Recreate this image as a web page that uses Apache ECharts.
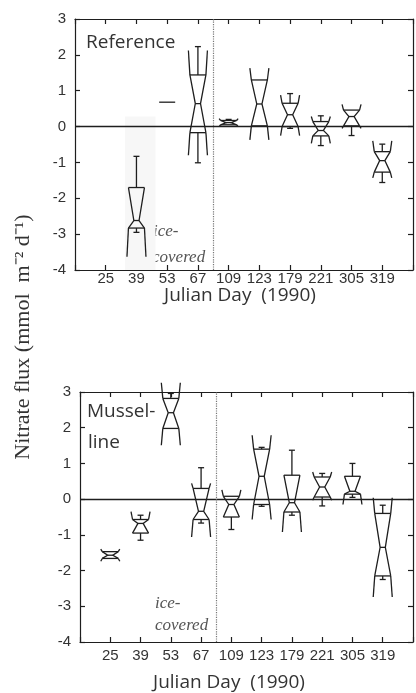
<!DOCTYPE html>
<html>
<head>
<meta charset="utf-8">
<script src="https://cdn.jsdelivr.net/npm/echarts@6/dist/echarts.min.js"></script>
<style>
html, body { margin: 0; padding: 0; background: #fff; }
#chart { width: 416px; height: 693px; }
</style>
</head>
<body>
<div id="chart"></div>
<script>
// sampling days, one box per day (x position 1..10)
const days = ['25', '39', '53', '67', '109', '123', '179', '221', '305', '319'];

// Reference site: whiskers, notch tips, hinges, median
const refWhiskerHigh = [null, -0.83, 0.68, 2.23, 0.20, 1.32, 0.92, 0.30, 0.46, -0.49];
const refNotchHigh   = [null, -1.70, 0.68, 2.12, 0.22, 1.63, 0.88, 0.28, 0.62, -0.40];
const refQ3          = [null, -1.70, 0.68, 1.44, 0.17, 1.30, 0.65, 0.14, 0.46, -0.70];
const refMedian      = [null, -2.62, 0.68, 0.64, 0.11, 0.63, 0.33, -0.11, 0.28, -0.95];
const refQ1          = [null, -2.83, 0.68, -0.17, 0.05, 0.02, 0.00, -0.26, 0.02, -1.27];
const refNotchLow    = [null, -3.63, 0.68, -0.80, 0.00, -0.37, -0.25, -0.47, -0.05, -1.43];
const refWhiskerLow  = [null, -2.95, 0.68, -1.01, 0.05, 0.02, -0.05, -0.53, -0.25, -1.56];

// Mussel-line site
const musWhiskerHigh = [-1.47, -0.45, 2.96, 0.88, 0.08, 1.45, 1.37, 0.72, 1.00, -0.17];
const musNotchHigh   = [-1.40, -0.35, 3.26, 0.44, 0.26, 1.79, 0.67, 0.76, 0.64, 0.04];
const musQ3          = [-1.47, -0.57, 2.82, 0.30, 0.08, 1.40, 0.67, 0.62, 0.64, -0.40];
const musMedian      = [-1.57, -0.68, 2.42, -0.34, -0.15, 0.64, -0.10, 0.34, 0.22, -1.35];
const musQ1          = [-1.66, -0.95, 1.98, -0.57, -0.50, -0.15, -0.36, 0.06, 0.14, -2.15];
const musNotchLow    = [-1.74, -0.95, 1.51, -1.06, -0.50, -0.57, -0.92, -0.03, -0.15, -2.74];
const musWhiskerLow  = [-1.66, -1.15, 1.98, -0.67, -0.85, -0.20, -0.45, -0.19, 0.05, -2.25];

const yTicks = [-4, -3, -2, -1, 0, 1, 2, 3];

const ink = '#1e1e1e';
const textColor = '#333';

// value rows for custom series: [x, wLo, nLo, q1, med, q3, nHi, wHi]
function boxRows(wLo, nLo, q1, med, q3, nHi, wHi) {
    const rows = [];
    med.forEach((m, i) => {
        if (m == null) return;
        rows.push([i + 1, wLo[i], nLo[i], q1[i], m, q3[i], nHi[i], wHi[i]]);
    });
    return rows;
}

// notched box drawn like the old Systat plots (notch folds out past the hinges)
function renderBox(params, api) {
    const x = api.value(0);
    const cx = api.coord([x, 0])[0];
    const py = k => api.coord([x, api.value(k)])[1];
    const wLo = py(1), nLo = py(2), q1 = py(3), med = py(4), q3 = py(5), nHi = py(6), wHi = py(7);
    const w = 8, n = 2.6, cap = 3;
    const style = { stroke: ink, lineWidth: 1.3, fill: null };
    const parts = [];
    const add = pts => parts.push({ type: 'polyline', shape: { points: pts }, style: style });
    // all values equal -> just one dash
    if (q1 - q3 < 1) {
        add([[cx - w, med], [cx + w, med]]);
        return { type: 'group', children: parts };
    }
    add([[cx - w, q3], [cx + w, q3]]);
    add([[cx - w, q1], [cx + w, q1]]);
    add([[cx - n, med], [cx + n, med]]);
    [-1, 1].forEach(s => {
        add([[cx + s * w, q3], [cx + s * n, med], [cx + s * w, q1]]);
        if (q3 - nHi > 1) add([[cx + s * w, q3], [cx + s * (w + 1.5), nHi]]);
        if (nLo - q1 > 1) add([[cx + s * w, q1], [cx + s * (w + 1.5), nLo]]);
    });
    if (q3 - wHi > 1) {
        add([[cx, q3], [cx, wHi]]);
        add([[cx - cap, wHi], [cx + cap, wHi]]);
    }
    if (wLo - q1 > 1) {
        add([[cx, q1], [cx, wLo]]);
        add([[cx - cap, wLo], [cx + cap, wLo]]);
    }
    return { type: 'group', children: parts };
}

const lineStyle = { color: ink, width: 1.2 };

function makeXAxes(gi, margin) {
    const base = {
        gridIndex: gi, type: 'value', min: 0, max: 11, interval: 1,
        splitLine: { show: false },
        axisLine: { onZero: false, lineStyle: lineStyle },
        axisTick: { inside: true, length: 5, lineStyle: lineStyle }
    };
    return [
        Object.assign({}, base, {
            position: 'bottom',
            axisLabel: {
                margin: margin, fontSize: 15, color: textColor, fontFamily: 'Liberation Sans',
                formatter: v => days[v - 1] || ''
            }
        }),
        Object.assign({}, base, { position: 'top', axisLabel: { show: false } })
    ];
}

function makeYAxes(gi) {
    const base = {
        gridIndex: gi, type: 'value', min: yTicks[0], max: yTicks[yTicks.length - 1], interval: 1,
        splitLine: { show: false },
        axisLine: { onZero: false, lineStyle: lineStyle },
        axisTick: { inside: true, length: 5, lineStyle: lineStyle }
    };
    return [
        Object.assign({}, base, {
            position: 'left',
            axisLabel: { margin: 9, fontSize: 15, color: textColor, fontFamily: 'Liberation Sans' }
        }),
        Object.assign({}, base, { position: 'right', axisLabel: { show: false } })
    ];
}

function boxSeries(axisIdx, rows, shade) {
    const s = {
        type: 'custom',
        xAxisIndex: axisIdx,
        yAxisIndex: axisIdx,
        clip: false,
        renderItem: renderBox,
        encode: { x: 0, y: [1, 2, 3, 4, 5, 6, 7] },
        data: rows,
        z: 3,
        markLine: {
            silent: true, symbol: 'none', label: { show: false },
            lineStyle: { color: ink, width: 1.3, type: 'solid' },
            data: [
                { yAxis: 0 },
                { xAxis: 4.5, lineStyle: { type: 'dotted', color: '#777', width: 1.2 } }
            ]
        }
    };
    if (shade) {
        s.markArea = {
            silent: true,
            itemStyle: { color: '#f7f7f7' },
            data: [[{ xAxis: 1.63, yAxis: 0.28 }, { xAxis: 2.62, yAxis: -4 }]]
        };
    }
    return s;
}

const labelFont = '19px "Open Sans"';
const iceFont = 'italic 17px "Liberation Serif"';

const chart = echarts.init(document.getElementById('chart'));
chart.setOption({
    animation: false,
    backgroundColor: '#fff',
    grid: [
        { left: 75, top: 19, height: 251, right: -4 },
        { left: 80, top: 392, height: 250, right: -7 }
    ],
    xAxis: makeXAxes(0, 1).concat(makeXAxes(1, 6)),
    yAxis: makeYAxes(0).concat(makeYAxes(1)),
    series: [
        boxSeries(0, boxRows(refWhiskerLow, refNotchLow, refQ1, refMedian, refQ3, refNotchHigh, refWhiskerHigh), true),
        boxSeries(2, boxRows(musWhiskerLow, musNotchLow, musQ1, musMedian, musQ3, musNotchHigh, musWhiskerHigh), false)
    ],
    graphic: [
        { type: 'text', x: 86, y: 43, style: { text: 'Reference', font: labelFont, fill: textColor, align: 'left', verticalAlign: 'middle' } },
        { type: 'text', x: 87, y: 412, style: { text: 'Mussel-', font: labelFont, fill: textColor, align: 'left', verticalAlign: 'middle' } },
        { type: 'text', x: 88, y: 443, style: { text: 'line', font: labelFont, fill: textColor, align: 'left', verticalAlign: 'middle' } },
        { type: 'text', x: 153, y: 232, style: { text: 'ice-', font: iceFont, fill: '#555', align: 'left', verticalAlign: 'middle' } },
        { type: 'text', x: 152, y: 258, style: { text: 'covered', font: iceFont, fill: '#555', align: 'left', verticalAlign: 'middle' } },
        { type: 'text', x: 155, y: 604, style: { text: 'ice-', font: iceFont, fill: '#555', align: 'left', verticalAlign: 'middle' } },
        { type: 'text', x: 155, y: 626, style: { text: 'covered', font: iceFont, fill: '#555', align: 'left', verticalAlign: 'middle' } },
        { type: 'text', x: 240, y: 296, style: { text: 'Julian Day  (1990)', font: labelFont, fill: textColor, align: 'center', verticalAlign: 'middle' } },
        { type: 'text', x: 229, y: 683, style: { text: 'Julian Day  (1990)', font: labelFont, fill: textColor, align: 'center', verticalAlign: 'middle' } },
        {
            type: 'text', x: 23, y: 337, rotation: Math.PI / 2,
            style: { text: 'Nitrate flux (mmol  m⁻² d⁻¹)', font: '22px "Liberation Serif"', fill: textColor, align: 'center', verticalAlign: 'middle' }
        }
    ]
});
</script>
</body>
</html>
